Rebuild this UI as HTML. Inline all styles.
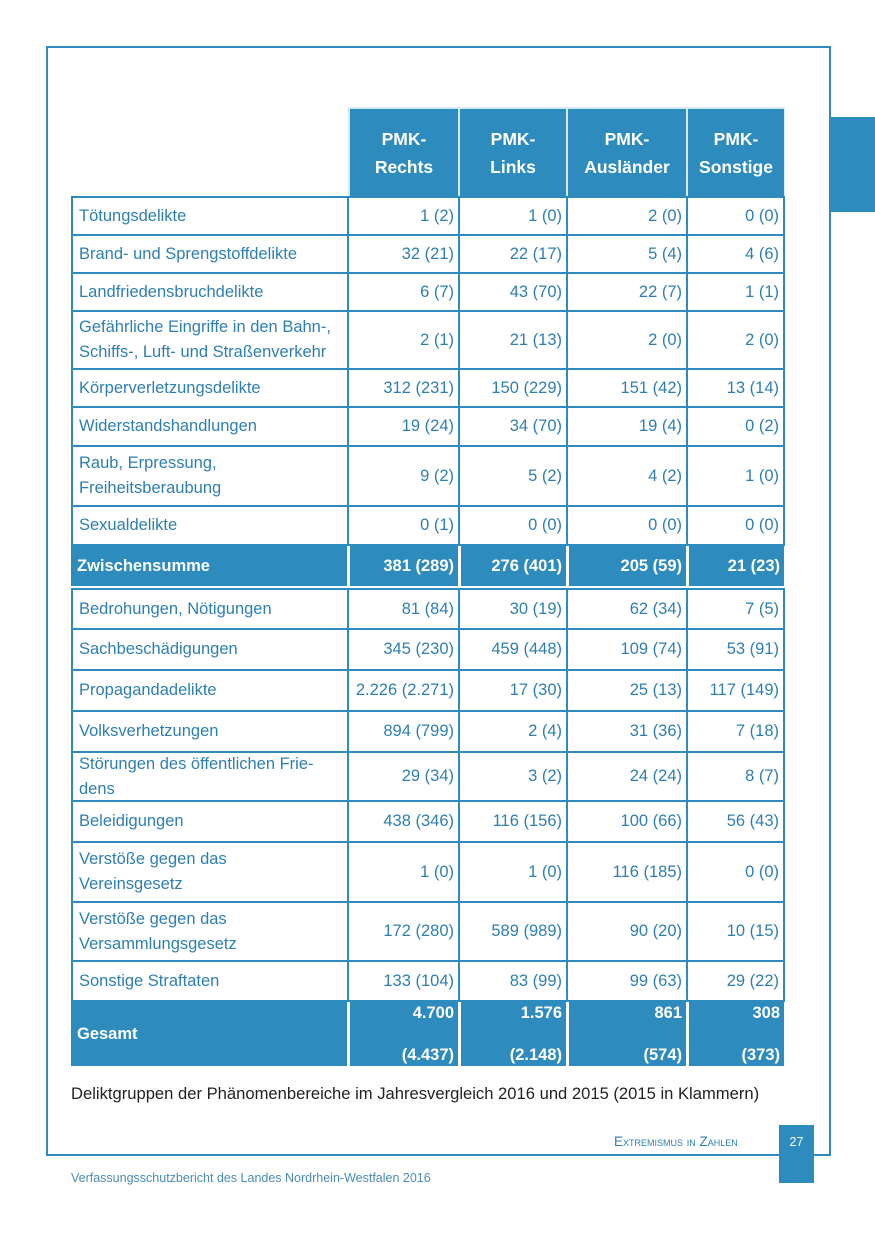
<!DOCTYPE html>
<html><head><meta charset="utf-8">
<style>
body{margin:0;width:875px;height:1241px;background:#fff;position:relative;overflow:hidden;font-family:"Liberation Sans",Arial,sans-serif;}
.a{position:absolute;box-sizing:border-box;}
.lbl{color:#2e7fb0;font-size:16.5px;line-height:25px;padding-left:6px;display:flex;align-items:center;}
.val{color:#2e7fb0;font-size:16.5px;display:flex;align-items:center;justify-content:flex-end;padding-right:4px;white-space:nowrap;}
.hd{background:#2e8bbd;color:#fff;font-weight:bold;font-size:17.5px;line-height:28px;text-align:center;display:flex;align-items:center;justify-content:center;}
.bl{background:#2e8bbd;}
</style></head><body>
<div class="a" style="left:46px;top:46px;width:785px;height:1110px;border:2px solid #2e8bbd;"></div>
<div class="a bl" style="left:829px;top:117px;width:46px;height:95px;"></div>
<div id="tbl"></div>
<div class="a" style="left:71px;top:1084px;font-size:16.6px;color:#222;white-space:nowrap;">Deliktgruppen der Phänomenbereiche im Jahresvergleich 2016 und 2015 (2015 in Klammern)</div>
<div class="a" style="left:614px;top:1134px;font-size:13.5px;color:#2e7fb0;font-variant:small-caps;white-space:nowrap;">Extremismus in Zahlen</div>
<div class="a bl" style="left:779px;top:1125px;width:35px;height:58px;color:#fff;font-size:12.5px;text-align:center;padding-top:10px;">27</div>
<div class="a" style="left:71px;top:1171px;font-size:12.5px;color:#4a8cb5;white-space:nowrap;">Verfassungsschutzbericht des Landes Nordrhein-Westfalen 2016</div>
<script>
const headers=["PMK-<br>Rechts","PMK-<br>Links","PMK-<br>Ausländer","PMK-<br>Sonstige"];
const labels=["Tötungsdelikte","Brand- und Sprengstoffdelikte","Landfriedensbruchdelikte","Gefährliche Eingriffe in den Bahn-,<br>Schiffs-, Luft- und Straßenverkehr","Körperverletzungsdelikte","Widerstandshandlungen","Raub, Erpressung,<br>Freiheitsberaubung","Sexualdelikte","Zwischensumme","Bedrohungen, Nötigungen","Sachbeschädigungen","Propagandadelikte","Volksverhetzungen","Störungen des öffentlichen Frie-<br>dens","Beleidigungen","Verstöße gegen das<br>Vereinsgesetz","Verstöße gegen das<br>Versammlungsgesetz","Sonstige Straftaten","Gesamt"];
const rechts=["1 (2)","32 (21)","6 (7)","2 (1)","312 (231)","19 (24)","9 (2)","0 (1)","381 (289)","81 (84)","345 (230)","2.226 (2.271)","894 (799)","29 (34)","438 (346)","1 (0)","172 (280)","133 (104)","4.700|(4.437)"];
const links=["1 (0)","22 (17)","43 (70)","21 (13)","150 (229)","34 (70)","5 (2)","0 (0)","276 (401)","30 (19)","459 (448)","17 (30)","2 (4)","3 (2)","116 (156)","1 (0)","589 (989)","83 (99)","1.576|(2.148)"];
const auslaender=["2 (0)","5 (4)","22 (7)","2 (0)","151 (42)","19 (4)","4 (2)","0 (0)","205 (59)","62 (34)","109 (74)","25 (13)","31 (36)","24 (24)","100 (66)","116 (185)","90 (20)","99 (63)","861|(574)"];
const sonstige=["0 (0)","4 (6)","1 (1)","2 (0)","13 (14)","0 (2)","1 (0)","0 (0)","21 (23)","7 (5)","53 (91)","117 (149)","7 (18)","8 (7)","56 (43)","0 (0)","10 (15)","29 (22)","308|(373)"];
const cols=[rechts,links,auslaender,sonstige];
const xs=[71,348,459,567,687,785];
const ys=[196,234,272,310,368,406,445,505,544,588,628,669,710,751,800,841,901,960,1000,1068];
const T=document.getElementById('tbl');
function mk(cls,l,t,w,h,html,st){const d=document.createElement('div');d.className='a '+cls;d.style.cssText=`left:${l}px;top:${t}px;width:${w}px;height:${h}px;`+(st||'');if(html!==undefined)d.innerHTML=html;T.appendChild(d);return d;}
const hb=mk('',348,107,437,89,undefined,'background:#d6e8f2;');


headers.forEach((h,i)=>{const d=mk('hd',xs[i+1]+(i?1:2),109,xs[i+2]-xs[i+1]-(i?2:3),87,h);

});
labels.forEach((lab,r)=>{
  const y0=ys[r],y1=ys[r+1];const special=(r===8||r===18);
  if(special){
    const st=r===8?546:1002, h=r===8?40:64;
    const l=mk('lbl bl',71,st,276,h,lab,'color:#fff;font-weight:bold;');
    
    
    cols.forEach((c,i)=>{
      let txt=c[r];
      if(r===18){const p=txt.split('|');txt=`<div style="display:flex;flex-direction:column;justify-content:space-between;height:100%;text-align:right;padding:2px 0 1px;box-sizing:border-box"><span>${p[0]}</span><span>${p[1]}</span></div>`;}
      const d=mk('val bl',xs[i+1]+2,st,xs[i+2]-xs[i+1]-3,h,txt,'color:#fff;font-weight:bold;'+(r===18?'align-items:stretch;':''));
      
      
    });
  } else {
    const rowEl=mk('',71,y0,714,y1-y0+2,undefined,'border:2px solid #2e8bbd;');
    
    
    const l=mk('lbl',73,y0+2,275,y1-y0-2,lab);
    
    
    cols.forEach((c,i)=>{
      if(i>0){const v=mk('bl',xs[i+1]-1,y0,2,y1-y0+2);}
      const d=mk('val',xs[i+1],y0+2,xs[i+2]-xs[i+1]-(i===3?2:1),y1-y0-2,c[r]);
      
      
    });
    const v0=mk('bl',347,y0,2,y1-y0+2);
  }
});
</script>
</body></html>
